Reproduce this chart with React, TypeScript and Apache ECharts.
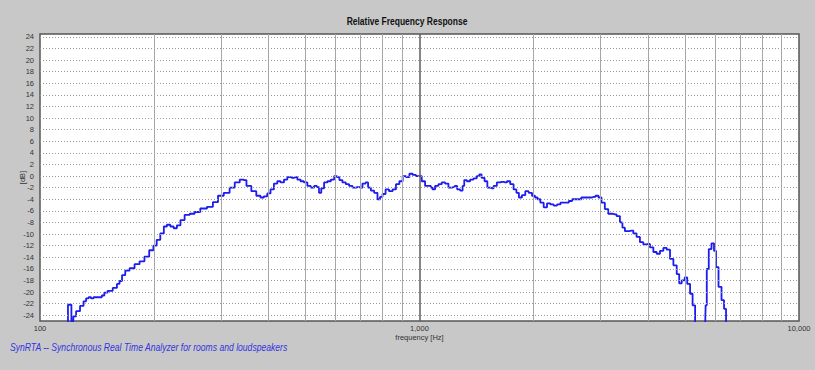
import React, { useEffect, useRef } from "react";
import * as echarts from "echarts";

const FREQ_HZ = [
  117, 120, 122, 123, 126, 129, 131.5, 133, 135.6, 137, 139.7, 144, 147, 148.5, 153, 158, 161, 163, 166, 169.5,
  175, 180, 186, 191, 197, 201, 205, 210, 214, 218, 223, 227, 232, 237, 244, 252, 259, 270, 281, 290,
  299, 311, 321, 331, 341, 345, 355, 366, 377, 385, 393, 401, 409, 418, 426, 435, 444, 453, 462, 472,
  481, 491, 501, 512, 522, 533, 540, 547, 555, 566, 578, 590, 602, 610, 620, 633, 646, 659, 673, 687,
  700, 715, 727, 737, 752, 767, 783, 791, 807, 821, 841, 858, 876, 894, 912, 931, 950, 969, 989, 1003,
  1024, 1045, 1066, 1077, 1088, 1110, 1133, 1156, 1180, 1204, 1229, 1248, 1266, 1293, 1305, 1319, 1346, 1374, 1402, 1430,
  1445, 1469, 1499, 1520, 1552, 1583, 1615, 1649, 1683, 1717, 1752, 1788, 1813, 1843, 1881, 1919, 1959, 1999, 2032, 2061,
  2103, 2146, 2190, 2235, 2280, 2327, 2376, 2449, 2499, 2550, 2628, 2709, 2793, 2879, 2939, 2987, 3047, 3111, 3174, 3272,
  3339, 3409, 3442, 3514, 3622, 3696, 3770, 3849, 3928, 4007, 4091, 4174, 4258, 4347, 4436, 4526, 4620, 4714, 4810, 4859,
  4958, 5040, 5111, 5218, 5269, 5379, 5488, 5657, 5692, 5737, 5832, 5929, 6013, 6075, 6198, 6301, 6390, 6456, 6547,
];

const LEVEL_DB = [
  -27, -22.2, -27, -24.2, -23.3, -22.4, -21.6, -21.1, -20.9, -21.1, -20.9, -20.9, -20.6, -20.1, -19.8, -19.3, -18.6, -18.1, -17.1, -16.3,
  -15.9, -15.2, -14.7, -13.9, -12.8, -12.0, -11.0, -9.9, -8.7, -8.4, -8.7, -9.0, -8.5, -7.6, -6.7, -6.5, -6.2, -5.6, -5.3, -4.5,
  -3.4, -2.9, -2.0, -1.1, -0.6, -0.7, -1.7, -2.6, -3.4, -3.7, -3.5, -3.0, -2.3, -1.3, -0.9, -1.1, -0.6, -0.2, -0.3, -0.2,
  -0.6, -0.9, -1.1, -1.7, -2.0, -1.7, -1.9, -2.9, -2.1, -1.1, -0.9, -0.6, 0.0, -0.2, -0.7, -1.1, -1.4, -1.7, -2.0, -1.9,
  -2.0, -1.3, -1.1, -2.0, -2.5, -2.9, -4.0, -3.6, -3.1, -2.3, -2.6, -2.3, -1.4, -0.9, 0.0, -0.2, 0.4, 0.2, 0.0, 0.0,
  -0.9, -1.7, -1.7, -2.0, -2.3, -1.7, -1.4, -1.1, -1.3, -2.0, -1.9, -1.7, -2.3, -2.5, -1.7, -0.7, -0.9, -0.6, -0.4, 0.0,
  0.3, -0.3, -0.9, -2.0, -2.1, -1.7, -1.1, -1.0, -1.1, -0.9, -1.4, -2.3, -2.9, -3.7, -3.3, -2.6, -2.9, -3.4, -3.7, -4.0,
  -4.6, -5.4, -4.7, -4.9, -5.1, -4.9, -4.6, -4.6, -4.3, -4.0, -4.0, -3.7, -3.7, -3.6, -3.4, -3.7, -4.6, -5.7, -6.5, -6.6,
  -6.9, -8.0, -8.9, -9.5, -9.4, -9.9, -10.5, -11.4, -11.8, -11.7, -12.3, -13.1, -13.4, -12.9, -12.4, -12.7, -14.3, -15.4, -16.9, -18.5,
  -18.0, -17.5, -18.6, -20.3, -22.3, -26.5, -28, -26.5, -22.3, -16.0, -12.6, -11.6, -12.9, -15.7, -19.1, -21.4, -22.9, -26.5, -28,
];

const Y_GRID_DB = [-24, -22, -20, -18, -16, -14, -12, -10, -8, -6, -4, -2, 0, 2, 4, 6, 8, 10, 12, 14, 16, 18, 20, 22, 24];
const X_GRID_HZ = [200, 300, 400, 500, 600, 700, 800, 900, 2000, 3000, 4000, 5000, 6000, 7000, 8000, 9000];
const X_GRID_MAJOR_HZ = [1000];

const TITLE = "Relative Frequency Response";
const X_NAME = "frequency [Hz]";
const Y_NAME = "[dB]";
const FOOTER = "SynRTA -- Synchronous Real Time Analyzer for rooms and loudspeakers";

const FONT = '"Liberation Sans", Arial, sans-serif';

export default function App() {
  const ref = useRef<HTMLDivElement>(null);

  useEffect(() => {
    document.body.style.margin = "0";
    const chart = echarts.init(ref.current as HTMLDivElement, null, { renderer: "svg" });
    const curve = FREQ_HZ.map((f, i) => [f, LEVEL_DB[i]]);

    const gridLines: any[] = [
      ...Y_GRID_DB.map((v) => ({
        yAxis: v,
        lineStyle: { color: "#9a9a9a", width: 1, type: [1, 2] },
      })),
      ...X_GRID_HZ.map((v) => ({
        xAxis: v,
        lineStyle: { color: "#a6a6a6", width: 1, type: "solid" },
      })),
      ...X_GRID_MAJOR_HZ.map((v) => ({
        xAxis: v,
        lineStyle: { color: "#5c5c5c", width: 1.5, type: "solid" },
      })),
    ];

    chart.setOption({
      animation: false,
      backgroundColor: "#c8c8c8",
      textStyle: { fontFamily: FONT },
      grid: {
        left: 40,
        right: 16,
        top: 34,
        bottom: 49,
        containLabel: false,
        outerBoundsMode: "none",
        show: true,
        backgroundColor: "#ffffff",
        borderColor: "#555555",
        borderWidth: 1.5,
      },
      xAxis: {
        type: "log",
        logBase: 10,
        min: 100,
        max: 10000,
        axisLine: { show: false },
        axisTick: { show: false },
        splitLine: { show: false },
        axisLabel: {
          fontFamily: FONT,
          fontSize: 7.5,
          color: "#333",
          margin: 3,
          formatter: (v: number) => Math.round(v).toLocaleString("en-US"),
        },
        name: X_NAME,
        nameLocation: "middle",
        nameGap: 12.5,
        nameMoveOverlap: false,
        nameTextStyle: { fontFamily: FONT, fontSize: 7.5, color: "#333" },
      },
      yAxis: {
        type: "value",
        min: -25,
        max: 24.5,
        interval: 1,
        axisLine: { show: false },
        axisTick: { show: false },
        splitLine: { show: false },
        axisLabel: {
          fontFamily: FONT,
          fontSize: 7.5,
          color: "#333",
          margin: 6,
          formatter: (v: number) => (Number.isInteger(v) && v % 2 === 0 ? String(v) : ""),
        },
        name: Y_NAME,
        nameLocation: "middle",
        nameGap: 14,
        nameRotate: 90,
        nameMoveOverlap: false,
        nameTextStyle: { fontFamily: FONT, fontSize: 7.5, color: "#333" },
      },
      graphic: [
        {
          type: "text",
          x: 407,
          y: 22,
          scaleX: 0.85,
          style: {
            text: TITLE,
            font: `bold 10px ${FONT}`,
            fill: "#111",
            align: "center",
            verticalAlign: "middle",
          },
        },
        {
          type: "text",
          x: 10,
          y: 348,
          scaleX: 0.86,
          style: {
            text: FOOTER,
            font: `italic 10px ${FONT}`,
            fill: "#3434e0",
            align: "left",
            verticalAlign: "middle",
          },
        },
      ],
      series: [
        {
          type: "line",
          z: 1,
          data: [[100, -40]],
          showSymbol: false,
          silent: true,
          lineStyle: { opacity: 0 },
          markLine: {
            silent: true,
            symbol: ["none", "none"],
            label: { show: false },
            emphasis: { disabled: true },
            data: gridLines,
          },
        },
        {
          type: "line",
          z: 3,
          data: curve,
          step: "middle",
          showSymbol: false,
          clip: true,
          silent: true,
          lineStyle: { color: "#1c1cf0", width: 1.8 },
        },
      ],
    });

    return () => chart.dispose();
  }, []);

  return <div ref={ref} style={{ width: 815, height: 370 }} />;
}
